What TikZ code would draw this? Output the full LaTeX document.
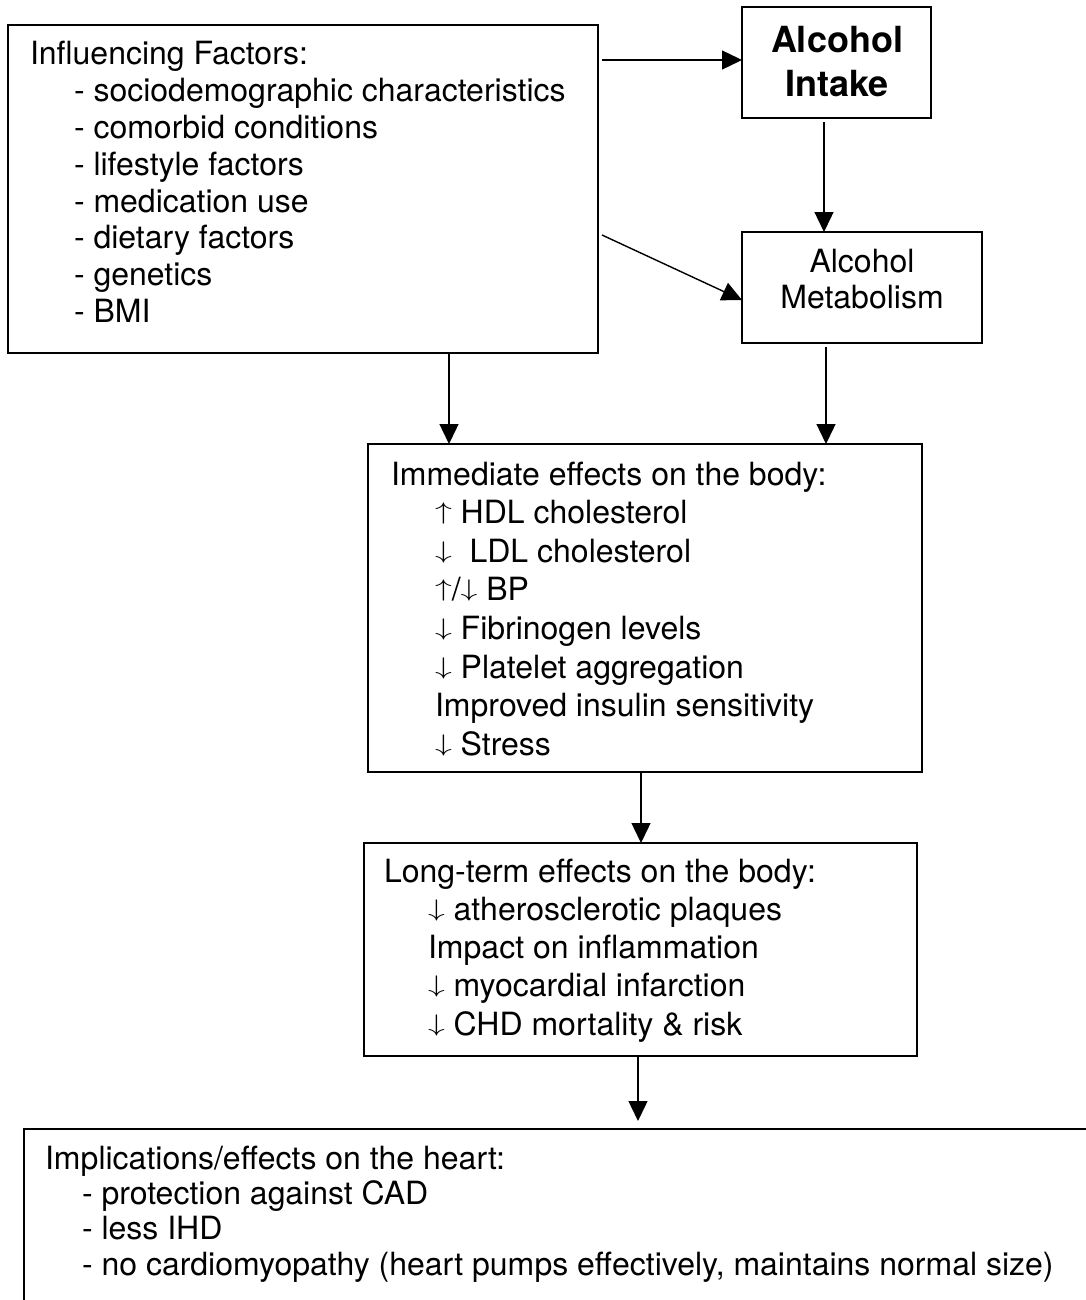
\RequirePackage{fix-cm}
\documentclass[tikz,border=0pt]{standalone}
\usepackage{fontspec}
\setmainfont{TeX Gyre Heros}
\usepackage{graphicx}
\usetikzlibrary{arrows.meta}

% left-aligned / centred stacks of lines with a fixed baseline distance;
% the baseline of the stack is that of its first line
\newcommand{\textstack}[2]{\vtop{\baselineskip=#1\relax\lineskiplimit=-1000pt\halign{##\hfil\cr#2\crcr}}}
\newcommand{\centerstack}[2]{\vtop{\baselineskip=#1\relax\lineskiplimit=-1000pt\halign{\hfil##\hfil\cr#2\crcr}}}
\newcommand{\itemind}{\hspace*{44pt}}
% thin up/down arrows about as tall as a capital letter
\newcommand{\arrup}{\raisebox{4pt}{\scalebox{1.4}[1]{\fontsize{24}{24}\selectfont$\uparrow$}}}
\newcommand{\arrdn}{\raisebox{4pt}{\scalebox{1.4}[1]{\fontsize{24}{24}\selectfont$\downarrow$}}}

\begin{document}
\begin{tikzpicture}[x=1pt,y=-1pt,
  box/.style={draw,line width=1.8pt,inner sep=0pt,outer sep=0pt,anchor=north west},
  txt/.style={inner sep=0pt,outer sep=0pt,anchor=base west,font=\fontsize{32}{38}\selectfont},
  flow/.style={line width=1.4pt,-{Triangle[length=20pt,width=19pt]}}]

\useasboundingbox (0,0) rectangle (1086,1300);
\fill[white] (0,0) rectangle (1086,1300);
\clip (0,0) rectangle (1086,1300);

% boxes
\node[box,minimum width=590pt,minimum height=328pt] (inf) at (8,25) {};
\node[box,minimum width=189pt,minimum height=111pt,line width=2pt] (intake) at (742,7) {};
\node[box,minimum width=240pt,minimum height=111pt] (metab) at (742,232) {};
\node[box,minimum width=554pt,minimum height=328pt] (imm) at (368,444) {};
\node[box,minimum width=553pt,minimum height=213pt] (lt) at (364,843) {};
\node[box,minimum width=1096pt,minimum height=211pt,line width=2.2pt] (impl) at (24,1129) {};

% box texts
\node[txt] (inftxt) at (30,65) {\textstack{36.8pt}{%
  Influencing Factors:\cr
  \itemind- sociodemographic characteristics\cr
  \itemind- comorbid conditions\cr
  \itemind- lifestyle factors\cr
  \itemind- medication use\cr
  \itemind- dietary factors\cr
  \itemind- genetics\cr
  \itemind- BMI}};

\node[txt,anchor=base,font=\fontsize{36}{44}\selectfont\bfseries] (intaketxt) at (837,53)
  {\centerstack{44pt}{Alcohol\cr Intake}};

\node[txt,anchor=base] (metabtxt) at (862,272)
  {\centerstack{36.5pt}{Alcohol\cr Metabolism}};

\node[txt] (immtxt) at (391,485) {\textstack{38.6pt}{%
  Immediate effects on the body:\cr
  \itemind\arrup\ HDL cholesterol\cr
  \itemind\arrdn\ \ LDL cholesterol\cr
  \itemind\arrup/\arrdn\ BP\cr
  \itemind\arrdn\ Fibrinogen levels\cr
  \itemind\arrdn\ Platelet aggregation\cr
  \itemind Improved insulin sensitivity\cr
  \itemind\arrdn\ Stress}};

\node[txt] (lttxt) at (384,882) {\textstack{38.25pt}{%
  Long-term effects on the body:\cr
  \itemind\arrdn\ atherosclerotic plaques\cr
  \itemind Impact on inflammation\cr
  \itemind\arrdn\ myocardial infarction\cr
  \itemind\arrdn\ CHD mortality \& risk}};

\node[txt] (impltxt) at (45,1169) {\textstack{35.4pt}{%
  Implications/effects on the heart:\cr
  \hspace*{37pt}- protection against CAD\cr
  \hspace*{37pt}- less IHD\cr
  \hspace*{37pt}- no cardiomyopathy (heart pumps effectively, maintains normal size)}};

% connectors
\draw[flow] ([shift={(4,35)}]inf.north east) -- ([shift={(0,53)}]intake.north west);
\draw[flow] ([shift={(4,210)}]inf.north east) -- ([shift={(0,68)}]metab.north west);
\draw[flow] ([shift={(82,4)}]intake.south west) -- ([shift={(82,0)}]metab.north west);
\draw[flow] ([shift={(441,0)}]inf.south west) -- ([shift={(81,0)}]imm.north west);
\draw[flow] ([shift={(84,4)}]metab.south west) -- ([shift={(458,0)}]imm.north west);
\draw[flow] ([shift={(273,0)}]imm.south west) -- ([shift={(277,0)}]lt.north west);
\draw[flow] ([shift={(274,0)}]lt.south west) -- ([shift={(614,-8)}]impl.north west);
\end{tikzpicture}
\end{document}
